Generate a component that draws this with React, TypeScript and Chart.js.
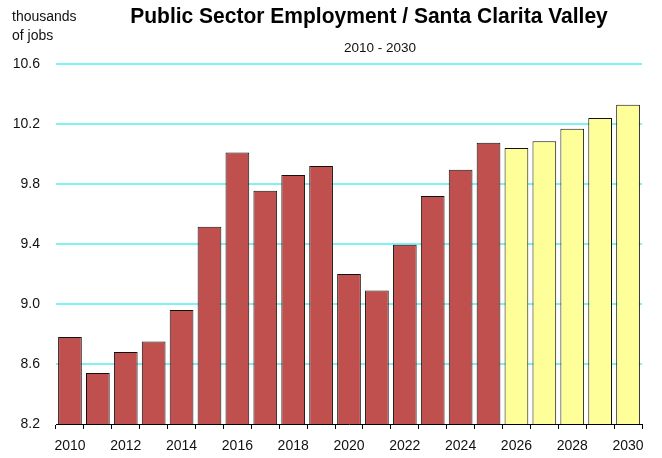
import React, { useEffect, useRef } from "react";
import { Chart, registerables } from "chart.js";

Chart.register(...registerables);

const titleText = "Public Sector Employment / Santa Clarita Valley";
const subtitleText = "2010 - 2030";
const unitLines = ["thousands", "of jobs"];

const years = [
  "2010", "2011", "2012", "2013", "2014", "2015", "2016", "2017", "2018", "2019",
  "2020", "2021", "2022", "2023", "2024", "2025", "2026", "2027", "2028", "2029", "2030",
];
const actualValues = [
  8.78, 8.54, 8.68, 8.75, 8.96, 9.515, 10.01, 9.755, 9.86, 9.92,
  9.2, 9.09, 9.395, 9.72, 9.895, 10.075,
];
const forecastValues = [10.04, 10.085, 10.168, 10.24, 10.328];
const yTicks = [8.2, 8.6, 9.0, 9.4, 9.8, 10.2, 10.6];

const FONT = "'Liberation Sans Narrow', 'Arial Narrow', 'Liberation Sans', sans-serif";
const RED = "#C0504D";
const YELLOW = "#FFFF99";
const GRID = "#7FF2F2";

export default function App() {
  const ref = useRef<HTMLCanvasElement | null>(null);

  useEffect(() => {
    if (!ref.current) return;
    const textPlugin = {
      id: "texts",
      afterDraw(chart: any) {
        const ctx = chart.ctx;
        ctx.save();
        ctx.fillStyle = "#000";
        ctx.textBaseline = "alphabetic";
        ctx.textAlign = "center";
        ctx.font = `bold 22px ${FONT}`;
        ctx.save();
        ctx.translate(369, 23);
        ctx.scale(0.955, 1);
        ctx.fillText(titleText, 0, 0);
        ctx.restore();
        ctx.font = `13.5px ${FONT}`;
        ctx.fillStyle = "#111";
        ctx.fillText(subtitleText, 380, 52);
        ctx.textAlign = "left";
        ctx.font = `14px ${FONT}`;
        ctx.fillText(unitLines[0], 12, 21);
        ctx.fillText(unitLines[1], 12, 40);
        ctx.restore();
      },
    };
    const chart = new Chart(ref.current, {
      type: "bar",
      data: {
        labels: years,
        datasets: [
          {
            data: [...actualValues, ...forecastValues],
            backgroundColor: [
              ...actualValues.map(() => RED),
              ...forecastValues.map(() => YELLOW),
            ],
            borderColor: "#111",
            borderWidth: 1,
            barPercentage: 0.85,
            categoryPercentage: 1,
          },
        ],
      },
      options: {
        animation: false,
        responsive: false,
        layout: { padding: { top: 64, right: 20, left: 0, bottom: 0 } },
        plugins: { legend: { display: false }, tooltip: { enabled: false } },
        scales: {
          x: {
            offset: true,
            grid: {
              offset: true,
              drawOnChartArea: false,
              drawTicks: true,
              tickLength: 5,
              color: "#000",
              lineWidth: 1,
            },
            border: { display: true, color: "#000", width: 1 },
            ticks: {
              autoSkip: false,
              maxRotation: 0,
              padding: 9,
              color: "#111",
              font: { family: FONT, size: 14 },
              callback: (_v: any, i: number) => (i % 2 === 0 ? years[i] : ""),
            },
            afterFit: (s: any) => {
              s.height = 34;
            },
          },
          y: {
            min: yTicks[0],
            max: yTicks[yTicks.length - 1],
            afterBuildTicks: (s: any) => {
              s.ticks = yTicks.map((v) => ({ value: v }));
            },
            grid: {
              drawTicks: false,
              lineWidth: 2,
              color: (c: any) => (c.tick && c.tick.value === yTicks[0] ? "rgba(0,0,0,0)" : GRID),
            },
            border: { display: false },
            ticks: {
              padding: 16,
              color: "#111",
              font: { family: FONT, size: 14 },
              callback: (v: any) => Number(v).toFixed(1),
            },
            afterFit: (s: any) => {
              s.width = 56;
            },
          },
        },
      },
      plugins: [textPlugin],
    });
    return () => chart.destroy();
  }, []);

  return (
    <div style={{ position: "fixed", left: 0, top: 0, width: 662, height: 458, background: "#fff" }}>
      <canvas ref={ref} width={662} height={458} />
    </div>
  );
}
